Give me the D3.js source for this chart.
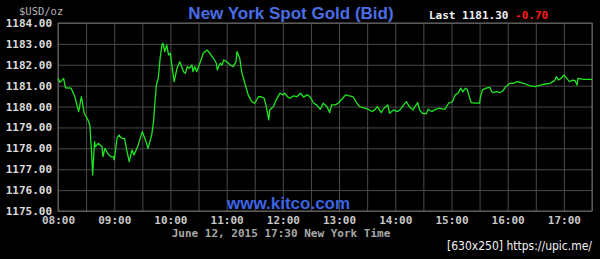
<!DOCTYPE html>
<html>
<head>
<meta charset="utf-8">
<script src="https://cdn.jsdelivr.net/npm/d3@7"></script>
<style>
  body { margin: 0; background: #000; }
  svg { display: block; }
</style>
</head>
<body>
<div id="chart"></div>
<script>
const width = 600;
const height = 259;
const margin = {top: 23, right: 8, bottom: 48, left: 58};

// bid quotes, New York time, June 12 2015
const times = [
  "08:00", "08:02", "08:06", "08:08", "08:14", "08:18", "08:22", "08:25", "08:28", "08:32",
  "08:34", "08:36", "08:37", "08:39", "08:40", "08:43", "08:47", "08:48", "08:50", "08:53",
  "08:56", "08:59", "09:00", "09:03", "09:05", "09:08", "09:11", "09:13", "09:16", "09:19",
  "09:21", "09:25", "09:30", "09:34", "09:36", "09:40", "09:42", "09:43", "09:45", "09:47",
  "09:49", "09:51", "09:52", "09:54", "09:56", "09:58", "10:00", "10:02", "10:04", "10:07",
  "10:10", "10:14", "10:16", "10:18", "10:20", "10:23", "10:24", "10:26", "10:28", "10:32",
  "10:35", "10:39", "10:42", "10:46", "10:49", "10:50", "10:53", "10:55", "10:57", "11:00",
  "11:04", "11:07", "11:10", "11:11", "11:14", "11:16", "11:20", "11:23", "11:27", "11:30",
  "11:34", "11:37", "11:40", "11:42", "11:45", "11:46", "11:50", "11:53", "11:57", "12:00",
  "12:02", "12:05", "12:08", "12:11", "12:15", "12:19", "12:22", "12:26", "12:29", "12:33",
  "12:36", "12:40", "12:43", "12:47", "12:50", "12:52", "12:56", "12:59", "13:03", "13:07",
  "13:11", "13:15", "13:19", "13:22", "13:28", "13:31", "13:35", "13:38", "13:41", "13:45",
  "13:48", "13:52", "13:54", "13:58", "14:02", "14:05", "14:09", "14:12", "14:15", "14:19",
  "14:21", "14:24", "14:26", "14:29", "14:33", "14:35", "14:39", "14:42", "14:46", "14:53",
  "14:57", "15:01", "15:04", "15:07", "15:10", "15:12", "15:15", "15:17", "15:19", "15:21",
  "15:25", "15:30", "15:31", "15:33", "15:37", "15:41", "15:43", "15:45", "15:48", "15:52",
  "15:55", "15:58", "16:02", "16:06", "16:10", "16:14", "16:19", "16:24", "16:29", "16:35",
  "16:40", "16:45", "16:50", "16:52", "16:54", "16:57", "17:00", "17:03", "17:06", "17:09",
  "17:12", "17:14", "17:15", "17:21", "17:30"
];
const prices = [
  1181.35, 1181.16, 1181.35, 1180.90, 1180.88, 1180.47, 1179.76, 1180.47, 1179.68, 1179.36,
  1179.12, 1177.68, 1176.73, 1178.32, 1178.08, 1178.24, 1178.08, 1177.60, 1178.00, 1177.77,
  1177.60, 1177.60, 1177.45, 1178.48, 1178.64, 1178.48, 1178.48, 1178.00, 1177.36, 1177.92,
  1177.68, 1178.08, 1178.80, 1178.32, 1178.00, 1178.64, 1179.28, 1179.92, 1181.03, 1181.35,
  1182.31, 1182.95, 1183.03, 1182.63, 1182.95, 1182.47, 1182.55, 1181.83, 1181.19, 1181.83,
  1182.15, 1181.67, 1181.59, 1181.91, 1181.83, 1181.99, 1181.67, 1181.91, 1181.67, 1182.15,
  1182.55, 1182.71, 1182.55, 1182.31, 1182.07, 1181.75, 1182.07, 1181.99, 1182.23, 1182.15,
  1181.99, 1181.91, 1182.15, 1182.63, 1182.31, 1181.67, 1181.03, 1180.56, 1180.23, 1180.16,
  1180.47, 1180.47, 1180.40, 1180.08, 1179.36, 1179.84, 1180.00, 1180.32, 1180.64, 1180.56,
  1180.64, 1180.47, 1180.40, 1180.51, 1180.47, 1180.64, 1180.45, 1180.56, 1180.47, 1180.16,
  1180.08, 1179.87, 1180.16, 1180.00, 1179.71, 1180.08, 1180.08, 1180.16, 1180.35, 1180.56,
  1180.51, 1180.47, 1180.16, 1180.00, 1179.92, 1179.87, 1179.76, 1179.84, 1180.00, 1179.71,
  1179.92, 1180.08, 1179.68, 1179.84, 1179.76, 1179.84, 1180.08, 1180.23, 1180.00, 1179.84,
  1180.00, 1180.19, 1179.84, 1179.68, 1179.65, 1179.87, 1179.76, 1179.84, 1179.92, 1179.87,
  1180.16, 1180.23, 1180.56, 1180.64, 1180.88, 1180.71, 1180.88, 1180.80, 1180.47, 1180.19,
  1180.16, 1180.16, 1180.47, 1180.80, 1180.88, 1180.92, 1180.71, 1180.67, 1180.71, 1180.67,
  1180.76, 1180.95, 1181.11, 1181.11, 1181.19, 1181.14, 1181.08, 1180.99, 1180.95, 1181.03,
  1181.08, 1181.11, 1181.24, 1181.43, 1181.27, 1181.35, 1181.51, 1181.35, 1181.19, 1181.27,
  1181.24, 1181.03, 1181.35, 1181.30, 1181.30
];
const yTicks = [1175, 1176, 1177, 1178, 1179, 1180, 1181, 1182, 1183, 1184];
const xDomain = ["08:00", "17:30"];
const title = "New York Spot Gold (Bid)";
const lastPrice = "1181.30";
const change = "-0.70";
const unitLabel = "$USD/oz";
const stamp = "June 12, 2015 17:30 New York Time";
const site = "www.kitco.com";
const credit = "[630x250] https://upic.me/";

const parseTime = d3.timeParse("%H:%M");
const data = times.map((t, i) => ({time: parseTime(t), price: prices[i]}));

const mono = "'DejaVu Sans Mono', monospace";
const sans = "Arial, 'Liberation Sans', sans-serif";

const x = d3.scaleTime()
    .domain(xDomain.map(parseTime))
    .range([margin.left, width - margin.right]);

const y = d3.scaleLinear()
    .domain([d3.min(yTicks), d3.max(yTicks)])
    .range([height - margin.bottom, margin.top]);

const svg = d3.create("svg")
    .attr("width", width)
    .attr("height", height)
    .attr("viewBox", [0, 0, width, height])
    .style("background", "#000");

// horizontal grid + price labels
svg.append("g")
    .attr("transform", `translate(${margin.left},0)`)
    .call(d3.axisLeft(y)
        .tickValues(yTicks)
        .tickSize(-(width - margin.left - margin.right))
        .tickPadding(6)
        .tickFormat(d3.format(".2f")))
    .call(g => g.select(".domain").remove())
    .call(g => g.selectAll(".tick line").attr("stroke", "#4a4a4a"))
    .call(g => g.selectAll(".tick text")
        .attr("fill", "#dcdcdc")
        .attr("font-family", mono)
        .attr("font-weight", "bold")
        .attr("font-size", 11));

// vertical grid every half hour, labels on the hour
svg.append("g")
    .attr("transform", `translate(0,${height - margin.bottom})`)
    .call(d3.axisBottom(x)
        .ticks(d3.timeMinute.every(30))
        .tickSize(-(height - margin.top - margin.bottom))
        .tickPadding(5)
        .tickFormat(d => d.getMinutes() === 0 ? d3.timeFormat("%H:%M")(d) : ""))
    .call(g => g.select(".domain").remove())
    .call(g => g.selectAll(".tick line").attr("stroke", "#4a4a4a"))
    .call(g => g.selectAll(".tick text")
        .attr("fill", "#c8c8c8")
        .attr("font-family", mono)
        .attr("font-weight", "bold")
        .attr("font-size", 11));

// plot frame
svg.append("rect")
    .attr("x", x.range()[0])
    .attr("y", y.range()[1])
    .attr("width", x.range()[1] - x.range()[0])
    .attr("height", y.range()[0] - y.range()[1])
    .attr("fill", "none")
    .attr("stroke", "#6a6a6a");

svg.append("text")
    .attr("x", 227)
    .attr("y", height - margin.bottom - 2)
    .attr("fill", "#3c64e6")
    .attr("font-family", sans)
    .attr("font-weight", "bold")
    .attr("font-size", 17)
    .text(site);

const line = d3.line()
    .x(d => x(d.time))
    .y(d => y(d.price));

svg.append("path")
    .datum(data)
    .attr("fill", "none")
    .attr("stroke", "#1ee61e")
    .attr("stroke-width", 1.3)
    .attr("stroke-linejoin", "round")
    .attr("d", line);

svg.append("text")
    .attr("x", 19)
    .attr("y", 15)
    .attr("fill", "#b4b4b4")
    .attr("font-family", mono)
    .attr("font-size", 10.5)
    .text(unitLabel);

svg.append("text")
    .attr("x", 291)
    .attr("y", 19)
    .attr("text-anchor", "middle")
    .attr("fill", "#4a6ee6")
    .attr("font-family", sans)
    .attr("font-weight", "bold")
    .attr("font-size", 17)
    .text(title);

const last = svg.append("text")
    .attr("x", 429)
    .attr("y", 19)
    .attr("font-family", mono)
    .attr("font-weight", "bold")
    .attr("font-size", 11);
last.append("tspan").attr("fill", "#f0f0f0").text(`Last ${lastPrice} `);
last.append("tspan").attr("fill", "#ff1a1a").text(change);

svg.append("text")
    .attr("x", 281)
    .attr("y", 237)
    .attr("text-anchor", "middle")
    .attr("fill", "#a8a8a8")
    .attr("font-family", mono)
    .attr("font-weight", "bold")
    .attr("font-size", 11)
    .text(stamp);

svg.append("text")
    .attr("x", 447)
    .attr("y", 250)
    .attr("fill", "#f4f4f4")
    .attr("font-family", "'DejaVu Sans', sans-serif")
    .attr("font-size", 11.5)
    .attr("textLength", 145)
    .attr("lengthAdjust", "spacingAndGlyphs")
    .text(credit);

document.getElementById("chart").appendChild(svg.node());
</script>
</body>
</html>
